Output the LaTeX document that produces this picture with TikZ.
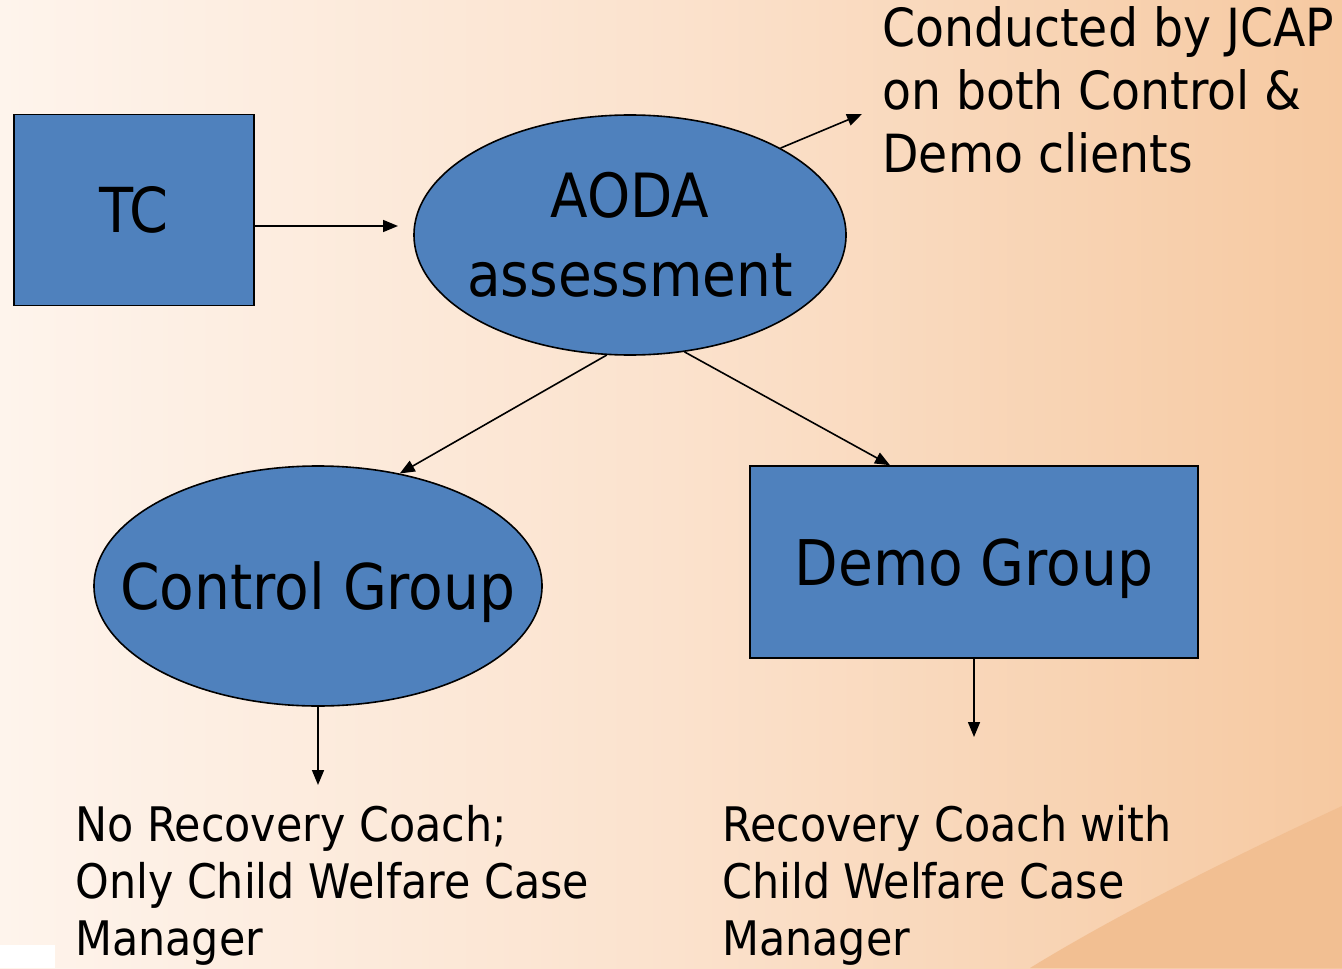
\documentclass[tikz,border=0pt]{standalone}
\usepackage{fontspec}
\setmainfont{DejaVu Sans Condensed}
\usetikzlibrary{shapes.geometric,arrows.meta}

\definecolor{boxblue}{HTML}{4F81BD}
\definecolor{bgleft}{HTML}{FEF4EC}
\definecolor{bgmid}{HTML}{FBE2CD}
\definecolor{bgright}{HTML}{F6C9A1}
\definecolor{swoosh}{HTML}{F2BF92}

\tikzset{
  blockbox/.style={draw=black, thick, fill=boxblue, rectangle, inner sep=0pt},
  blockoval/.style={draw=black, thick, fill=boxblue, ellipse, inner ysep=0pt},
  note/.style={align=left, anchor=north west, inner sep=0pt},
  link/.style={-{Triangle[length=7.5pt,width=6pt]}, thick}
}

\begin{document}
\begin{tikzpicture}[x=0.5pt, y=-0.5pt]
  % background
  \useasboundingbox (0,0) rectangle (1342,968);
  \shade[left color=bgleft, right color=bgright, middle color=bgmid] (0,0) rectangle (1342,968);
  \fill[swoosh] (1342,806) .. controls (1200,872) and (1100,925) .. (1030,968) -- (1342,968) -- cycle;
  \fill[white] (0,945) rectangle (55,968);

  \node[blockbox, minimum width=120pt, minimum height=95.5pt,
        font=\fontsize{31}{37}\selectfont] (TC) at (134,210) {TC};
  \node[blockoval, minimum width=216pt, minimum height=120pt, align=center,
        inner xsep=-5pt, font=\fontsize{30.5}{39.5}\selectfont] (A) at (630,235)
       {AODA\\assessment};
  \node[blockoval, minimum width=224pt, minimum height=120pt, inner xsep=-20pt,
        text depth=0pt, font=\fontsize{31.5}{37}\selectfont] (CG) at (318,586)
       {Control Group};
  \node[blockbox, minimum width=224pt, minimum height=96pt, text depth=0pt,
        font=\fontsize{31.5}{37}\selectfont] (DG) at (974,562) {Demo Group};

  \node[note, font=\fontsize{26.3}{31.5}\selectfont] (N) at (882,6)
       {Conducted by JCAP\\on both Control \&\\Demo clients};
  \node[note, font=\fontsize{23.8}{28.5}\selectfont] (CT) at (75,805)
       {No Recovery Coach;\\Only Child Welfare Case\\Manager};
  \node[note, font=\fontsize{23.8}{28.5}\selectfont] (DT) at (722,805)
       {Recovery Coach with\\Child Welfare Case\\Manager};

  \coordinate (nTip) at (862,114);
  \coordinate (cTip) at (318,785);
  \coordinate (dTip) at (974,737);

  \draw[link] (TC.east |- 0,226) -- (398,226);
  \draw[link] (A.30) -- (nTip);
  \draw[link] (A.-101) -- (CG.54);
  \draw[link] (A.-65) -- (DG.north -| 890,0);
  \draw[link] (CG.south) -- (cTip);
  \draw[link] (DG.south) -- (dTip);
\end{tikzpicture}
\end{document}
